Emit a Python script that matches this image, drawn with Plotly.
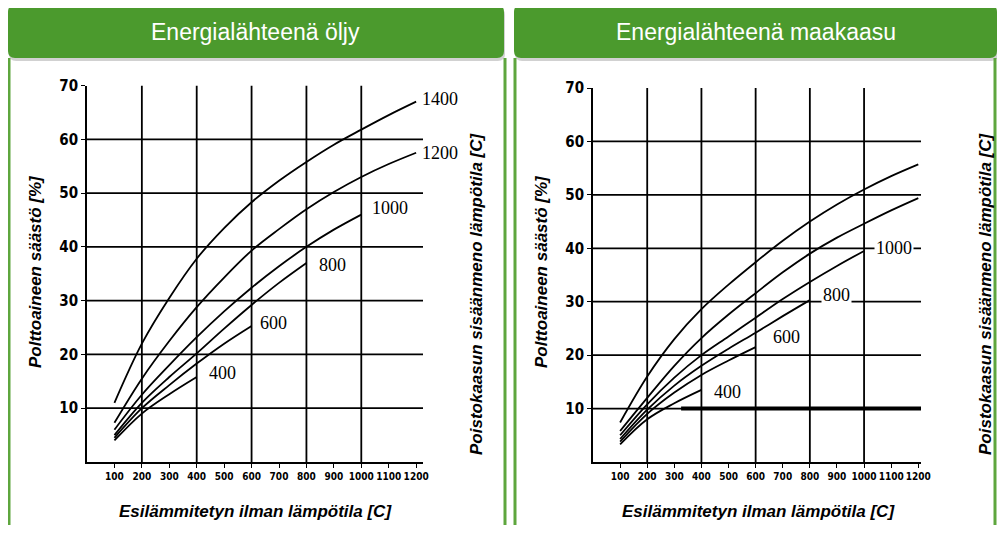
import plotly.graph_objects as go

# figure size chosen so page (with browser body margin) fits the window
FW, FH = 989, 517
OX, OY = 8, 8

# ---------------- data ----------------
panel_titles = ["Energialähteenä öljy", "Energialähteenä maakaasu"]
x_title = "Esilämmitetyn ilman lämpötila [C]"
y_title = "Polttoaineen säästö [%]"
y2_title = "Poistokaasun sisäänmeno lämpötila [C]"

x_ticks = [100, 200, 300, 400, 500, 600, 700, 800, 900, 1000, 1100, 1200]
y_ticks = [10, 20, 30, 40, 50, 60, 70]
x_grid = [200, 400, 600, 800, 1000]
y_grid = [10, 20, 30, 40, 50, 60]

series_names = ["1400", "1200", "1000", "800", "600", "400"]
series_x = {
    "1400": [100, 200, 300, 400, 500, 600, 700, 800, 900, 1000, 1100, 1200],
    "1200": [100, 200, 300, 400, 500, 600, 700, 800, 900, 1000, 1100, 1200],
    "1000": [100, 200, 300, 400, 500, 600, 700, 800, 900, 1000],
    "800": [100, 200, 300, 400, 500, 600, 700, 800],
    "600": [100, 200, 300, 400, 500, 600],
    "400": [100, 200, 300, 400],
}
oil = {
    "1400": [11, 22, 30.5, 37.8, 43.5, 48.3, 52.3, 55.8, 59, 61.8, 64.5, 67],
    "1200": [7.3, 15.5, 22.5, 28.8, 34.3, 39.3, 43.3, 47, 50.2, 53, 55.4, 57.5],
    "1000": [6, 12.5, 18, 23.2, 28, 32.4, 36.4, 40, 43.2, 46],
    "800": [5, 11, 15.8, 20.2, 24.8, 29.2, 33.3, 37],
    "600": [4.5, 10, 14.3, 18.3, 22, 25.3],
    "400": [4, 9, 12.6, 15.8],
}
gas = {
    "1400": [7.4, 16, 23, 28.6, 33.2, 37.4, 41.4, 45, 48.2, 51, 53.5, 55.7],
    "1200": [5.8, 12, 18, 23.2, 27.6, 31.6, 35.5, 39, 42, 44.6, 47.1, 49.4],
    "1000": [5, 10.8, 15.8, 20, 23.5, 27, 30.5, 33.7, 36.7, 39.5],
    "800": [4.3, 9.8, 14.3, 18, 21.2, 24.2, 27.3, 30.3],
    "600": [3.8, 9, 13, 16.3, 19, 21.5],
    "400": [3.3, 8, 11, 13.5],
}
# label anchor points (data coords) for curve labels
oil_label_pos = {"1400": (1215, 67.5), "1200": (1215, 57.4), "1000": (1033, 47.2),
                 "800": (839, 36.6), "600": (624, 25.8), "400": (438, 16.5)}
gas_label_pos = {"1400": (1221, 55.8), "1200": (1221, 50.4), "1000": (1037, 40),
                 "800": (841, 31.3), "600": (657, 23.4), "400": (439, 13.1)}
gas_thick_line = ([325, 1210], [10, 10])

# ---------------- layout helpers (reference pixel -> paper) ----------------
def fx(p):
    return (p - OX) / FW

def fy(p):
    return 1 - (p - OY) / FH

def rounded_rect(x0, y0, x1, y1, r):
    return (f"M {fx(x0 + r)},{fy(y0)} L {fx(x1 - r)},{fy(y0)} "
            f"Q {fx(x1)},{fy(y0)} {fx(x1)},{fy(y0 + r)} "
            f"L {fx(x1)},{fy(y1 - r)} Q {fx(x1)},{fy(y1)} {fx(x1 - r)},{fy(y1)} "
            f"L {fx(x0 + r)},{fy(y1)} Q {fx(x0)},{fy(y1)} {fx(x0)},{fy(y1 - r)} "
            f"L {fx(x0)},{fy(y0 + r)} Q {fx(x0)},{fy(y0)} {fx(x0 + r)},{fy(y0)} Z")

fig = go.Figure()

panels = [
    dict(data=oil, labels=oil_label_pos, xa="x", ya="y", xmax=1225,
         xdom=(87, 423), ydom=(462, 85.5), header=(8, 504), border=(9, 505),
         title_x=255, ytitle_x=35, y2title_x=476),
    dict(data=gas, labels=gas_label_pos, xa="x2", ya="y2", xmax=1210,
         xdom=(593, 921), ydom=(462, 88), header=(514, 997), border=(515, 995),
         title_x=758, ytitle_x=541, y2title_x=985),
]

shapes = []
annotations = []
label_font = dict(family="Liberation Serif", size=18, color="black")

for i, p in enumerate(panels):
    for name in series_names:
        fig.add_trace(go.Scatter(
            x=series_x[name], y=p["data"][name], mode="lines",
            line=dict(color="black", width=1.8, shape="spline", smoothing=1.0),
            xaxis=p["xa"], yaxis=p["ya"], showlegend=False, hoverinfo="skip"))
        lx, ly = p["labels"][name]
        annotations.append(dict(x=lx, y=ly, xref=p["xa"], yref=p["ya"], text=name,
                                showarrow=False, xanchor="left", yanchor="middle",
                                font=label_font, bgcolor="white"))
    for gy in y_grid:
        shapes.append(dict(type="line", xref=p["xa"], yref=p["ya"], x0=0, x1=p["xmax"],
                           y0=gy, y1=gy, line=dict(color="black", width=1.8), layer="below"))
    for gx in x_grid:
        shapes.append(dict(type="line", xref=p["xa"], yref=p["ya"], x0=gx, x1=gx,
                           y0=0, y1=70, line=dict(color="black", width=1.8), layer="below"))
    h0, h1 = p["header"]
    shapes.append(dict(type="path", xref="paper", yref="paper",
                       path=rounded_rect(h0 + 1, 8, h1 + 1, 61, 7),
                       fillcolor="rgba(0,0,0,0.18)", line=dict(width=0), layer="above"))
    shapes.append(dict(type="path", xref="paper", yref="paper",
                       path=rounded_rect(h0, 5, h1, 58, 7),
                       fillcolor="#4B9A2D", line=dict(width=0), layer="above"))
    b0, b1 = p["border"]
    for bx in (b0, b1):
        shapes.append(dict(type="line", xref="paper", yref="paper", x0=fx(bx), x1=fx(bx),
                           y0=fy(58), y1=fy(540), line=dict(color="#5EA63E", width=3)))
    annotations.append(dict(x=fx((h0 + h1) / 2), y=fy(32), xref="paper", yref="paper",
                            text=panel_titles[i], showarrow=False,
                            xanchor="center", yanchor="middle",
                            font=dict(family="Liberation Sans", size=23, color="white")))
    annotations.append(dict(x=fx(p["title_x"]), y=fy(511), xref="paper", yref="paper",
                            text=f"<b><i>{x_title}</i></b>", showarrow=False,
                            xanchor="center", yanchor="middle",
                            font=dict(family="Liberation Sans", size=17, color="black")))
    annotations.append(dict(x=fx(p["ytitle_x"]), y=fy(272), xref="paper", yref="paper",
                            text=f"<b><i>{y_title}</i></b>", showarrow=False, textangle=-90,
                            xanchor="center", yanchor="middle",
                            font=dict(family="Liberation Sans", size=17, color="black")))
    annotations.append(dict(x=fx(p["y2title_x"]), y=fy(294), xref="paper", yref="paper",
                            text=f"<b><i>{y2_title}</i></b>", showarrow=False, textangle=-90,
                            xanchor="center", yanchor="middle",
                            font=dict(family="Liberation Sans", size=17, color="black")))

fig.add_trace(go.Scatter(x=gas_thick_line[0], y=gas_thick_line[1], mode="lines",
                         line=dict(color="black", width=4), xaxis="x2", yaxis="y2",
                         showlegend=False, hoverinfo="skip"))

tickfont_x = dict(family="DejaVu Sans Condensed", size=10, color="black", weight="bold")
tickfont_y = dict(family="DejaVu Sans Condensed", size=15, color="black", weight="bold")

def xaxis_cfg(p, anchor):
    return dict(domain=[fx(p["xdom"][0]), fx(p["xdom"][1])], range=[0, p["xmax"]],
                tickvals=x_ticks, ticktext=[str(v) for v in x_ticks], showgrid=False,
                zeroline=False, showline=True, linecolor="black", linewidth=1.8,
                ticks="outside", ticklen=4, tickwidth=1.4, tickcolor="black",
                tickangle=0, automargin=False,
                tickfont=tickfont_x, anchor=anchor, fixedrange=True)

def yaxis_cfg(p, anchor):
    return dict(domain=[fy(p["ydom"][0]), fy(p["ydom"][1])], range=[0, 70],
                tickvals=y_ticks, ticktext=[str(v) for v in y_ticks], showgrid=False,
                zeroline=False, showline=True, linecolor="black", linewidth=1.8,
                ticks="outside", ticklen=4, tickwidth=1.4, tickcolor="black",
                automargin=False,
                tickfont=tickfont_y, anchor=anchor, fixedrange=True)

fig.update_layout(
    width=FW, height=FH, margin=dict(l=0, r=0, t=0, b=0, autoexpand=False),
    paper_bgcolor="white", plot_bgcolor="white",
    xaxis=xaxis_cfg(panels[0], "y"), yaxis=yaxis_cfg(panels[0], "x"),
    xaxis2=xaxis_cfg(panels[1], "y2"), yaxis2=yaxis_cfg(panels[1], "x2"),
    shapes=shapes, annotations=annotations, showlegend=False,
)

fig.write_html("out.html")
